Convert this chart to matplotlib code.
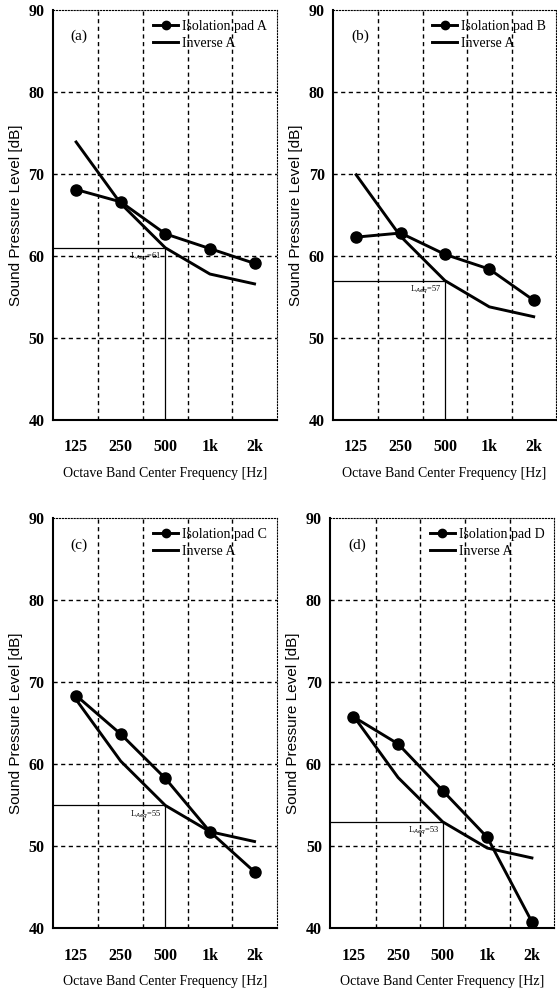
import numpy as np
import matplotlib.pyplot as plt
from matplotlib.lines import Line2D

# band centre frequencies
bands = ["125", "250", "500", "1k", "2k"]

# measured levels for each isolation pad [dB]
pad_a = [68.1, 66.6, 62.7, 60.9, 59.1]
pad_b = [62.3, 62.8, 60.2, 58.4, 54.6]
pad_c = [68.4, 63.7, 58.3, 51.8, 46.9]
pad_d = [65.8, 62.5, 56.8, 51.1, 40.8]

# inverse A curves [dB]
inv_a = [73.9, 66.4, 61.0, 57.8, 56.6]
inv_b = [69.9, 62.4, 57.0, 53.8, 52.6]
inv_c = [67.9, 60.4, 55.0, 51.8, 50.6]
inv_d = [65.9, 58.4, 53.0, 49.8, 48.6]

# LAeq values marked in each panel
laeq = [61, 57, 55, 53]

panel_tags = ["(a)", "(b)", "(c)", "(d)"]
pad_names = ["Isolation pad A", "Isolation pad B", "Isolation pad C", "Isolation pad D"]

serif = "Liberation Serif"
sans = "Liberation Sans"

fig = plt.figure(figsize=(5.57, 9.93), dpi=100)

# axes boxes in figure fractions
boxes = [
    [0.095, 0.577, 0.402, 0.413],
    [0.598, 0.577, 0.400, 0.413],
    [0.095, 0.065, 0.402, 0.413],
    [0.593, 0.065, 0.402, 0.413],
]

pads = [pad_a, pad_b, pad_c, pad_d]
invs = [inv_a, inv_b, inv_c, inv_d]
x = np.arange(len(bands))

for i in range(4):
    ax = fig.add_axes(boxes[i])
    ax.set_xlim(-0.52, 4.5)
    ax.set_ylim(40, 90)

    # grid between bands and at every 10 dB
    for gx in [0.5, 1.5, 2.5, 3.5]:
        ax.axvline(gx, color="black", lw=1.0, ls=(0, (3, 2.5)), zorder=1)
    for gy in [50, 60, 70, 80]:
        ax.axhline(gy, color="black", lw=1.0, ls=(0, (3, 2.5)), zorder=1)

    ax.plot(x, invs[i], color="black", lw=2.1, zorder=3)
    ax.plot(x, pads[i], color="black", lw=2.1, marker="o", ms=8, zorder=4)

    # LAeq guide lines at 500 Hz
    ax.plot([-0.52, 2], [laeq[i], laeq[i]], color="black", lw=0.9, zorder=2)
    ax.plot([2, 2], [40, laeq[i]], color="black", lw=0.9, zorder=2)
    ax.text(1.92, laeq[i] - 0.4, "L$_{Aeq}$=%d" % laeq[i], ha="right", va="top",
            fontsize=6, family=serif)

    ax.text(0.08, 0.935, panel_tags[i], transform=ax.transAxes, fontsize=11,
            family=serif, va="center")

    handles = [
        Line2D([], [], color="black", lw=2.1, marker="o", ms=6),
        Line2D([], [], color="black", lw=2.1),
    ]
    ax.legend(handles, [pad_names[i], "Inverse A"], loc="upper right",
              frameon=False, handlelength=1.8, handletextpad=0.3,
              labelspacing=0.3, borderaxespad=0.3,
              prop={"family": serif, "size": 10})

    ax.set_xticks(x)
    ax.set_xticklabels(bands, family=serif, fontsize=11.5, fontweight="bold")
    ax.set_yticks([40, 50, 60, 70, 80, 90])
    ax.set_yticklabels(["40", "50", "60", "70", "80", "90"], family=serif,
                       fontsize=11.5, fontweight="bold")
    ax.tick_params(axis="x", length=0, pad=14)
    ax.tick_params(axis="y", length=0, pad=6)

    ax.set_ylabel("Sound Pressure Level [dB]", family=sans, fontsize=11, labelpad=4)
    ax.set_xlabel("Octave Band Center Frequency [Hz]", family=serif, fontsize=10,
                  labelpad=8)

    for s in ["left", "bottom"]:
        ax.spines[s].set_linewidth(1.5)
    for s in ["top", "right"]:
        ax.spines[s].set_linewidth(0.8)
        ax.spines[s].set_linestyle(":")

fig.savefig("out.png", dpi=100)
